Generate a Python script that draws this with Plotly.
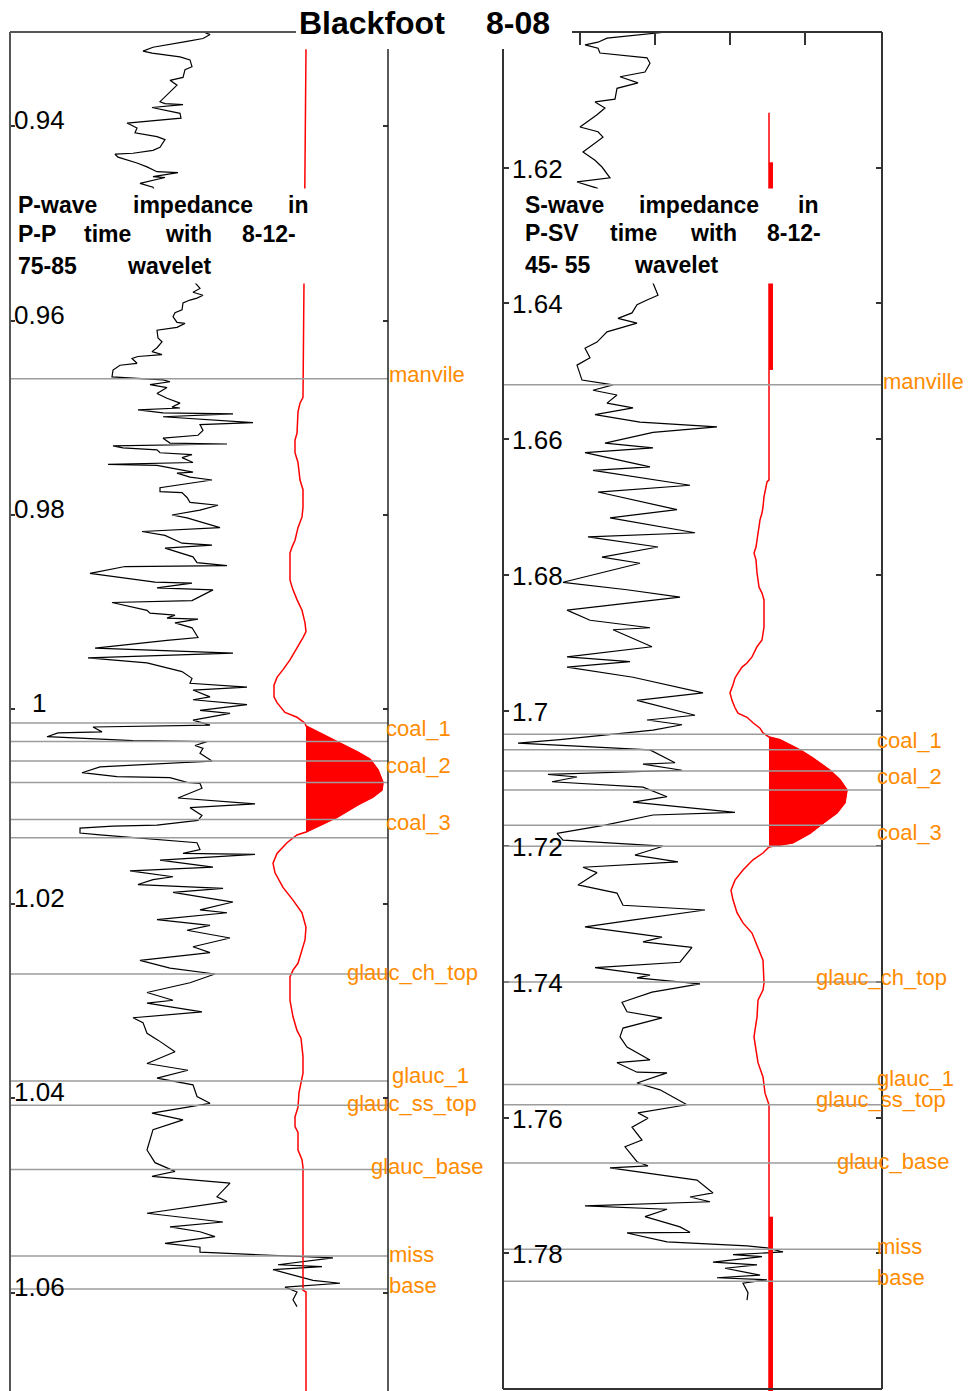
import plotly.graph_objects as go

FIG_W, FIG_H = 968, 1391
FONT = "Liberation Sans, Arial, sans-serif"
ORANGE = "#FF8C00"
FRAME = "#333333"
TOP_LINE = "#9c9c9c"

# ---------------- P-wave impedance log in P-P time (s) ----------------
p_time = [
    0.9301, 0.9303, 0.9306, 0.9310, 0.9313, 0.9319, 0.9323, 0.9325, 0.9329, 0.9332,
    0.9339, 0.9342, 0.9350, 0.9353, 0.9358, 0.9363, 0.9370, 0.9375, 0.9377, 0.9378,
    0.9381, 0.9384, 0.9387, 0.9392, 0.9395, 0.9397, 0.9402, 0.9407, 0.9411, 0.9414,
    0.9422, 0.9425, 0.9428, 0.9429, 0.9432, 0.9438, 0.9442, 0.9447, 0.9448, 0.9452,
    0.9453, 0.9459, 0.9463, 0.9507, 0.9561, 0.9567, 0.9571, 0.9574, 0.9577, 0.9579,
    0.9582, 0.9589, 0.9592, 0.9596, 0.9602, 0.9603, 0.9607, 0.9610, 0.9618, 0.9622,
    0.9628, 0.9632, 0.9635, 0.9637, 0.9639, 0.9644, 0.9646, 0.9651, 0.9658, 0.9659,
    0.9661, 0.9663, 0.9666, 0.9669, 0.9675, 0.9680, 0.9685, 0.9689, 0.9690, 0.9692,
    0.9695, 0.9696, 0.9699, 0.9705, 0.9707, 0.9713, 0.9718, 0.9721, 0.9726, 0.9727,
    0.9729, 0.9731, 0.9733, 0.9736, 0.9738, 0.9741, 0.9746, 0.9748, 0.9749, 0.9752,
    0.9756, 0.9757, 0.9761, 0.9764, 0.9772, 0.9776, 0.9777, 0.9782, 0.9787, 0.9790,
    0.9795, 0.9800, 0.9803, 0.9813, 0.9817, 0.9821, 0.9829, 0.9831, 0.9834, 0.9843,
    0.9849, 0.9852, 0.9853, 0.9860, 0.9864, 0.9869, 0.9870, 0.9875, 0.9877, 0.9888,
    0.9890, 0.9898, 0.9901, 0.9903, 0.9906, 0.9907, 0.9911, 0.9916, 0.9926, 0.9929,
    0.9937, 0.9942, 0.9947, 0.9952, 0.9961, 0.9968, 0.9973, 0.9977, 0.9980, 0.9987,
    0.9990, 0.9995, 1.0001, 1.0004, 1.0011, 1.0016, 1.0018, 1.0023, 1.0024, 1.0028,
    1.0032, 1.0033, 1.0037, 1.0040, 1.0045, 1.0053, 1.0059, 1.0062, 1.0065, 1.0069,
    1.0070, 1.0075, 1.0076, 1.0081, 1.0086, 1.0091, 1.0097, 1.0101, 1.0109, 1.0114,
    1.0119, 1.0120, 1.0122, 1.0127, 1.0129, 1.0137, 1.0144, 1.0148, 1.0149, 1.0155,
    1.0162, 1.0166, 1.0172, 1.0175, 1.0180, 1.0184, 1.0188, 1.0198, 1.0206, 1.0209,
    1.0216, 1.0222, 1.0227, 1.0235, 1.0244, 1.0250, 1.0258, 1.0266, 1.0272, 1.0281,
    1.0291, 1.0299, 1.0302, 1.0311, 1.0317, 1.0322, 1.0333, 1.0340, 1.0352, 1.0364,
    1.0371, 1.0379, 1.0386, 1.0398, 1.0405, 1.0415, 1.0422, 1.0432, 1.0453, 1.0466,
    1.0475, 1.0480, 1.0487, 1.0501, 1.0506, 1.0518, 1.0527, 1.0532, 1.0537, 1.0542,
    1.0549, 1.0553, 1.0558, 1.0562, 1.0564, 1.0571, 1.0573, 1.0576, 1.0587, 1.0590,
    1.0594, 1.0599, 1.0607, 1.0614,
]
p_imp = [
    8.0, 9.15, 9.5, 9.15, 8.35, 6.65, 6.15, 6.6, 8.0, 8.5,
    8.6, 8.25, 8.15, 7.5, 7.85, 7.6, 7.25, 7.0, 7.25, 8.15,
    6.6, 7.4, 8.0, 8.05, 6.35, 5.35, 5.85, 5.75, 6.85, 7.25,
    7.0, 6.65, 5.65, 4.75, 4.9, 5.85, 6.35, 6.85, 7.9, 6.65,
    7.25, 6.0, 6.65, 7.5, 8.75, 9.0, 8.65, 9.15, 8.85, 8.5,
    8.15, 8.1, 7.75, 7.65, 7.85, 8.25, 7.85, 6.85, 6.9, 7.1,
    6.85, 6.6, 7.1, 5.9, 5.6, 5.85, 5.0, 4.65, 4.6, 5.65,
    7.15, 7.5, 6.5, 7.35, 6.85, 7.35, 8.0, 7.6, 8.0, 5.9,
    7.15, 10.65, 7.15, 11.65, 9.0, 9.15, 8.9, 7.15, 7.5, 10.35,
    4.65, 5.15, 6.85, 7.0, 8.6, 8.1, 8.65, 4.4, 6.85, 7.65,
    8.65, 7.85, 8.5, 9.6, 7.0, 7.0, 8.1, 8.35, 8.5, 9.9,
    9.0, 7.6, 8.35, 10.0, 6.1, 7.25, 8.1, 9.6, 7.25, 8.65,
    8.85, 10.35, 5.25, 3.5, 4.9, 6.75, 8.6, 6.85, 9.65, 8.6,
    4.6, 6.35, 6.5, 7.75, 7.35, 8.9, 7.75, 8.6, 8.9, 7.35,
    3.75, 10.65, 3.4, 6.35, 8.1, 8.6, 8.5, 11.35, 8.65, 9.5,
    8.65, 11.35, 9.0, 10.5, 8.65, 9.5, 3.65, 4.1, 1.9, 1.35,
    5.65, 9.35, 8.75, 9.15, 9.0, 9.6, 4.0, 3.5, 3.1, 4.85,
    7.5, 8.35, 9.0, 9.1, 8.5, 7.9, 11.75, 8.5, 9.1, 8.9,
    6.85, 4.65, 3.0, 3.0, 4.0, 8.85, 9.0, 8.15, 11.75, 7.0,
    9.65, 5.5, 7.65, 6.65, 5.9, 10.15, 7.65, 10.65, 9.0, 10.35,
    6.85, 9.5, 8.35, 10.5, 8.65, 9.5, 6.0, 7.5, 9.75, 8.5,
    6.35, 7.65, 6.35, 9.1, 5.65, 6.15, 6.35, 6.9, 7.75, 6.35,
    8.4, 6.85, 8.65, 8.85, 9.5, 6.6, 8.15, 6.65, 6.35, 6.75,
    7.75, 6.6, 10.5, 9.85, 10.35, 6.35, 10.15, 7.5, 9.0, 9.75,
    7.25, 9.0, 9.0, 13.35, 15.65, 12.9, 15.1, 12.65, 14.65, 16.0,
    13.25, 13.85, 13.65, 13.85,
]

# ---------------- S-wave impedance log in P-SV time (s) ----------------
s_time = [
    1.6000, 1.6009, 1.6015, 1.6019, 1.6024, 1.6031, 1.6038, 1.6046, 1.6059, 1.6066,
    1.6075, 1.6083, 1.6099, 1.6103, 1.6112, 1.6122, 1.6140, 1.6147, 1.6155, 1.6177,
    1.6189, 1.6199, 1.6215, 1.6221, 1.6230, 1.6299, 1.6370, 1.6388, 1.6395, 1.6402,
    1.6414, 1.6422, 1.6429, 1.6442, 1.6457, 1.6466, 1.6480, 1.6491, 1.6513, 1.6520,
    1.6528, 1.6535, 1.6547, 1.6554, 1.6564, 1.6575, 1.6582, 1.6590, 1.6606, 1.6613,
    1.6620, 1.6641, 1.6646, 1.6668, 1.6678, 1.6704, 1.6716, 1.6738, 1.6744, 1.6759,
    1.6774, 1.6783, 1.6811, 1.6822, 1.6833, 1.6852, 1.6867, 1.6878, 1.6881, 1.6906,
    1.6921, 1.6928, 1.6936, 1.6951, 1.6974, 1.6985, 1.7007, 1.7014, 1.7021, 1.7029,
    1.7043, 1.7048, 1.7058, 1.7077, 1.7079, 1.7088, 1.7094, 1.7098, 1.7105, 1.7113,
    1.7127, 1.7135, 1.7150, 1.7154, 1.7169, 1.7181, 1.7191, 1.7200, 1.7213, 1.7223,
    1.7231, 1.7239, 1.7257, 1.7269, 1.7287, 1.7294, 1.7309, 1.7319, 1.7334, 1.7341,
    1.7349, 1.7371, 1.7379, 1.7390, 1.7394, 1.7403, 1.7415, 1.7430, 1.7444, 1.7453,
    1.7468, 1.7481, 1.7496, 1.7515, 1.7519, 1.7533, 1.7534, 1.7549, 1.7559, 1.7581,
    1.7593, 1.7601, 1.7614, 1.7633, 1.7643, 1.7665, 1.7671, 1.7674, 1.7692, 1.7711,
    1.7717, 1.7724, 1.7730, 1.7735, 1.7746, 1.7761, 1.7769, 1.7770, 1.7783, 1.7789,
    1.7792, 1.7798, 1.7802, 1.7805, 1.7813, 1.7817, 1.7822, 1.7832, 1.7836, 1.7839,
    1.7844, 1.7858, 1.7869,
]
s_imp = [
    8.35, 5.35, 4.9, 4.25, 4.9, 5.0, 7.35, 7.5, 7.25, 6.0,
    6.9, 5.85, 5.75, 4.75, 5.25, 4.85, 4.0, 4.9, 5.15, 4.15,
    4.75, 5.1, 5.5, 3.85, 4.85, 6.5, 7.65, 7.9, 7.35, 6.85,
    6.6, 5.9, 6.85, 5.35, 4.85, 4.25, 4.5, 3.85, 4.1, 5.65,
    4.65, 5.85, 5.35, 6.65, 4.75, 7.0, 10.85, 7.65, 5.25, 7.65,
    4.25, 7.5, 4.65, 9.5, 4.9, 8.85, 5.5, 9.75, 4.4, 7.9,
    5.1, 7.0, 3.15, 6.35, 9.0, 3.35, 4.5, 7.5, 5.65, 7.6,
    3.35, 6.5, 3.35, 6.65, 10.15, 6.85, 9.75, 7.35, 9.1, 7.65,
    3.0, 0.9, 7.5, 8.75, 7.15, 9.1, 2.4, 3.85, 2.6, 7.15,
    8.35, 6.65, 11.75, 7.65, 5.25, 2.85, 3.15, 8.15, 6.75, 8.9,
    4.15, 4.85, 3.9, 5.85, 6.15, 10.25, 6.6, 4.25, 8.1, 7.15,
    9.6, 9.0, 4.75, 7.5, 6.85, 10.0, 7.6, 6.1, 6.35, 8.1,
    6.15, 6.0, 6.35, 7.5, 5.85, 6.85, 8.35, 6.85, 8.0, 9.35,
    6.9, 7.4, 6.6, 7.1, 6.25, 6.85, 7.4, 5.5, 9.85, 10.65,
    9.5, 10.5, 4.25, 8.35, 7.25, 9.0, 9.5, 6.35, 8.35, 12.35,
    13.35, 14.15, 11.65, 13.1, 10.65, 12.85, 11.25, 13.0, 10.85, 13.35,
    12.15, 12.4, 12.35,
]

# ---------------- Synthetic traces (8-12-75-85 and 8-12-45-55 wavelets) ----------------
p_wav_time = [
    0.9321, 0.9661, 0.9679, 0.9685, 0.9694, 0.9716, 0.9723, 0.9736, 0.9746, 0.9764,
    0.9774, 0.9792, 0.9802, 0.9813, 0.9826, 0.9833, 0.9839, 0.9867, 0.9877, 0.9887,
    0.9898, 0.9911, 0.9920, 0.9926, 0.9936, 0.9949, 0.9959, 0.9967, 0.9975, 0.9987,
    0.9993, 1.0003, 1.0008, 1.0014, 1.0017, 1.0033, 1.0044, 1.0051, 1.0062, 1.0075,
    1.0083, 1.0090, 1.0098, 1.0111, 1.0119, 1.0126, 1.0129, 1.0137, 1.0148, 1.0158,
    1.0168, 1.0183, 1.0196, 1.0209, 1.0224, 1.0237, 1.0261, 1.0268, 1.0275, 1.0299,
    1.0316, 1.0330, 1.0338, 1.0347, 1.0357, 1.0374, 1.0384, 1.0394, 1.0409, 1.0419,
    1.0429, 1.0435, 1.0453, 1.0463, 1.0471, 1.0597, 1.0599, 1.0701,
]
p_wav_amp = [
    14.3, 14.15, 14.15, 14.0, 13.9, 13.85, 13.75, 13.75, 13.9, 14.0,
    14.15, 14.15, 14.1, 13.9, 13.75, 13.6, 13.5, 13.5, 13.65, 13.85,
    14.1, 14.25, 14.3, 14.15, 13.85, 13.5, 13.15, 12.85, 12.7, 12.7,
    12.85, 13.25, 13.85, 14.25, 14.3, 15.85, 16.9, 17.5, 17.9, 18.15,
    18.1, 17.65, 16.9, 15.85, 15.0, 14.3, 13.85, 13.35, 12.85, 12.65,
    12.75, 13.15, 13.65, 14.1, 14.3, 14.25, 13.9, 13.65, 13.5, 13.5,
    13.65, 13.85, 14.05, 14.1, 14.15, 14.15, 14.05, 13.95, 13.9, 13.75,
    13.75, 13.9, 13.9, 14.1, 14.15, 14.15, 14.3, 14.3,
]
p_lobe = (1.0017, 1.0126)

s_wav_time = [
    1.6119, 1.6192, 1.6503, 1.6660, 1.6663, 1.6671, 1.6685, 1.6700, 1.6709, 1.6719,
    1.6738, 1.6759, 1.6768, 1.6778, 1.6797, 1.6818, 1.6827, 1.6837, 1.6877, 1.6896,
    1.6906, 1.6921, 1.6930, 1.6936, 1.6945, 1.6952, 1.6962, 1.6974, 1.6985, 1.6996,
    1.7004, 1.7010, 1.7018, 1.7026, 1.7033, 1.7039, 1.7043, 1.7058, 1.7070, 1.7088,
    1.7102, 1.7117, 1.7136, 1.7151, 1.7166, 1.7181, 1.7195, 1.7201, 1.7210, 1.7220,
    1.7235, 1.7250, 1.7265, 1.7279, 1.7298, 1.7313, 1.7328, 1.7349, 1.7368, 1.7402,
    1.7412, 1.7427, 1.7452, 1.7471, 1.7481, 1.7500, 1.7519, 1.7540, 1.7564, 1.7581,
    1.8003,
]
s_wav_amp = [
    13.45, 13.45, 13.45, 13.45, 13.35, 13.3, 13.2, 13.15, 13.1, 13.0,
    12.9, 12.8, 12.7, 12.8, 12.85, 12.95, 13.1, 13.2, 13.2, 13.1,
    12.85, 12.6, 12.35, 12.1, 11.9, 11.75, 11.65, 11.5, 11.6, 11.75,
    11.9, 12.35, 12.65, 13.0, 13.15, 13.45, 14.0, 15.0, 15.65, 16.5,
    17.0, 17.35, 17.25, 16.85, 16.15, 15.5, 14.65, 13.45, 13.15, 12.65,
    12.15, 11.75, 11.55, 11.65, 11.85, 12.15, 12.6, 12.9, 13.15, 13.2,
    13.15, 12.9, 12.85, 12.75, 12.7, 12.8, 12.9, 13.15, 13.25, 13.45,
    13.45,
]
s_lobe = (1.7039, 1.7201)
s_wav_heavy = [(1.6192, 1.6498), (1.7746, 1.8003)]
s_wav_heavy_amp = 13.55

# ---------------- Formation tops ----------------
p_tops = ["manvile", "coal_1", "coal_2", "coal_3", "glauc_ch_top",
          "glauc_1", "glauc_ss_top", "glauc_base", "miss", "base"]
p_top_times = [0.9660, 1.0014, 1.0053, 1.0113, 1.0272,
               1.0382, 1.0407, 1.0473, 1.0562, 1.0596]
p_coal_base_times = [1.0033, 1.0075, 1.0132]

s_tops = ["manville", "coal_1", "coal_2", "coal_3", "glauc_ch_top",
          "glauc_1", "glauc_ss_top", "glauc_base", "miss", "base"]
s_top_times = [1.6520, 1.7035, 1.7089, 1.7169, 1.7400,
               1.7551, 1.7581, 1.7667, 1.7794, 1.7841]
s_coal_base_times = [1.7058, 1.7117, 1.7200]

# ---------------- Time ticks ----------------
p_tick_vals = [0.94, 0.96, 0.98, 1.00, 1.02, 1.04, 1.06]
p_tick_text = ["0.94", "0.96", "0.98", "1", "1.02", "1.04", "1.06"]
s_tick_vals = [1.62, 1.64, 1.66, 1.68, 1.70, 1.72, 1.74, 1.76, 1.78]
s_tick_text = ["1.62", "1.64", "1.66", "1.68", "1.7", "1.72", "1.74", "1.76", "1.78"]

# ---------------- Layout placement (pixels) ----------------
p_label_x = [389, 386, 386, 386, 347, 392, 347, 371, 389, 389]
p_label_dy = [4.5, -5.7, -4.7, -2.7, 1.5, 5, 2, 2.5, 2, 3.5]
s_label_x = [883, 877, 877, 877, 816, 877, 816, 837, 877, 877]
s_label_dy = [3, -6, -5.7, -7.7, 4, 5.7, 5, 1.5, 2.5, 4]

p_caption = [("P-wave", 18, 205.3), ("impedance", 133, 205.3), ("in", 288, 205.3),
             ("P-P", 18, 233.7), ("time", 84, 233.7), ("with", 165, 233.7), ("8-12-", 242, 233.7),
             ("75-85", 18, 266.2), ("wavelet", 127, 266.2)]
s_caption = [("S-wave", 525, 205), ("impedance", 639, 205), ("in", 798, 205),
             ("P-SV", 525, 233), ("time", 610, 233), ("with", 690, 233), ("8-12-", 767, 233),
             ("45- 55", 525, 265.5), ("wavelet", 634, 265.5)]


def px(x):
    return x / FIG_W


def py(y):
    return 1 - y / FIG_H


fig = go.Figure()

# impedance logs
fig.add_trace(go.Scatter(x=p_imp, y=p_time, mode="lines",
                         line=dict(color="black", width=1.2), xaxis="x", yaxis="y"))
fig.add_trace(go.Scatter(x=s_imp, y=s_time, mode="lines",
                         line=dict(color="black", width=1.2), xaxis="x2", yaxis="y2"))

# synthetic traces with the positive lobe shaded
for t_arr, a_arr, lobe, xa, ya in [(p_wav_time, p_wav_amp, p_lobe, "x", "y"),
                                     (s_wav_time, s_wav_amp, s_lobe, "x2", "y2")]:
    lobe_pts = [(t, a) for t, a in zip(t_arr, a_arr) if lobe[0] <= t <= lobe[1]]
    fig.add_trace(go.Scatter(x=[a for _, a in lobe_pts], y=[t for t, _ in lobe_pts],
                             mode="lines", fill="toself", fillcolor="#FF0000",
                             line=dict(color="#FF0000", width=1), xaxis=xa, yaxis=ya))
    fig.add_trace(go.Scatter(x=a_arr, y=t_arr, mode="lines",
                             line=dict(color="#FF0000", width=1.5), xaxis=xa, yaxis=ya))

for t0, t1 in s_wav_heavy:
    fig.add_trace(go.Scatter(x=[s_wav_heavy_amp, s_wav_heavy_amp], y=[t0, t1], mode="lines",
                             line=dict(color="#FF0000", width=4), xaxis="x2", yaxis="y2"))

shapes = []
# white caption backgrounds
for x0, x1 in [(11, 387), (504, 881)]:
    shapes.append(dict(type="rect", xref="paper", yref="paper",
                       x0=px(x0), x1=px(x1), y0=py(283.5), y1=py(188.5),
                       fillcolor="white", line=dict(width=0), layer="above"))

# formation top lines
for ya, times in [("y", p_top_times + p_coal_base_times), ("y2", s_top_times + s_coal_base_times)]:
    xa = "x" if ya == "y" else "x2"
    for t in times:
        shapes.append(dict(type="line", xref=f"{xa} domain", yref=ya, x0=0, x1=1, y0=t, y1=t,
                           line=dict(color=TOP_LINE, width=1.5), layer="above"))

# panel frames
def seg(x0, y0, x1, y1, width=2, color=FRAME):
    return dict(type="line", xref="paper", yref="paper", x0=px(x0), y0=py(y0),
                x1=px(x1), y1=py(y1), line=dict(color=color, width=width), layer="above")

shapes += [
    seg(10, 32, 10, 1391, 2, "#555555"),
    seg(10, 32, 296, 32, 2, "#555555"),
    seg(388, 49, 388, 1391, 1.5, "#222222"),
    seg(572, 32, 882, 32),
    seg(882, 32, 882, 1389),
    seg(503, 1389, 882, 1389),
    seg(503, 49, 503, 1389),
]

annotations = []
annotations.append(dict(text="<b>Blackfoot</b>", xref="paper", yref="paper", x=px(297), y=py(23),
                        xanchor="left", yanchor="middle", showarrow=False,
                        font=dict(family=FONT, size=32, color="black")))
annotations.append(dict(text="<b>8-08</b>", xref="paper", yref="paper", x=px(518), y=py(23),
                        xanchor="center", yanchor="middle", showarrow=False,
                        font=dict(family=FONT, size=32, color="black")))

for word, x, y in p_caption + s_caption:
    annotations.append(dict(text=f"<b>{word}</b>", xref="paper", yref="paper", x=px(x - 2), y=py(y),
                            xanchor="left", yanchor="middle", showarrow=False,
                            font=dict(family=FONT, size=23, color="black")))

for v, txt in zip(p_tick_vals, p_tick_text):
    annotations.append(dict(text=txt, xref="paper", yref="y", x=px(39), y=v, yshift=6,
                            xanchor="center", yanchor="middle", showarrow=False,
                            font=dict(family=FONT, size=26, color="black")))
for v, txt in zip(s_tick_vals, s_tick_text):
    annotations.append(dict(text=txt, xref="paper", yref="y2", x=px(510), y=v, yshift=-1,
                            xanchor="left", yanchor="middle", showarrow=False,
                            font=dict(family=FONT, size=26, color="black")))

for names, times, xs, dys, ya in [(p_tops, p_top_times, p_label_x, p_label_dy, "y"),
                                  (s_tops, s_top_times, s_label_x, s_label_dy, "y2")]:
    for name, t, x, dy in zip(names, times, xs, dys):
        annotations.append(dict(text=name, xref="paper", yref=ya, x=px(x - 2), y=t, yshift=dy,
                                xanchor="left", yanchor="middle", showarrow=False,
                                font=dict(family=FONT, size=22, color=ORANGE)))

plain = dict(showgrid=False, zeroline=False, showline=False, showticklabels=False)

fig.update_layout(
    width=FIG_W, height=FIG_H,
    margin=dict(l=0, r=0, t=0, b=0),
    paper_bgcolor="white", plot_bgcolor="white",
    showlegend=False, hovermode=False,
    xaxis=dict(domain=[px(10), px(388)], range=[-0.5, 18.4], ticks="", anchor="y", **plain),
    yaxis=dict(domain=[0, py(32)], range=[1.07008, 0.930334], anchor="x",
               tickmode="array", tickvals=p_tick_vals, ticks="inside", ticklen=5,
               tickwidth=1.5, tickcolor=FRAME, mirror="ticks", **plain),
    xaxis2=dict(domain=[px(503), px(882)], range=[0.15, 19.1], anchor="y2", side="top",
                tickmode="array", tickvals=[4, 7.75, 11.5, 15.25], ticks="inside", ticklen=13,
                tickwidth=1.5, tickcolor=FRAME, **plain),
    yaxis2=dict(domain=[0, py(32)], range=[1.80029, 1.60], anchor="x2",
                tickmode="array", tickvals=s_tick_vals, ticks="inside", ticklen=6,
                tickwidth=1.5, tickcolor=FRAME, mirror="ticks", **plain),
    shapes=shapes,
    annotations=annotations,
)

fig.write_html("out.html")
